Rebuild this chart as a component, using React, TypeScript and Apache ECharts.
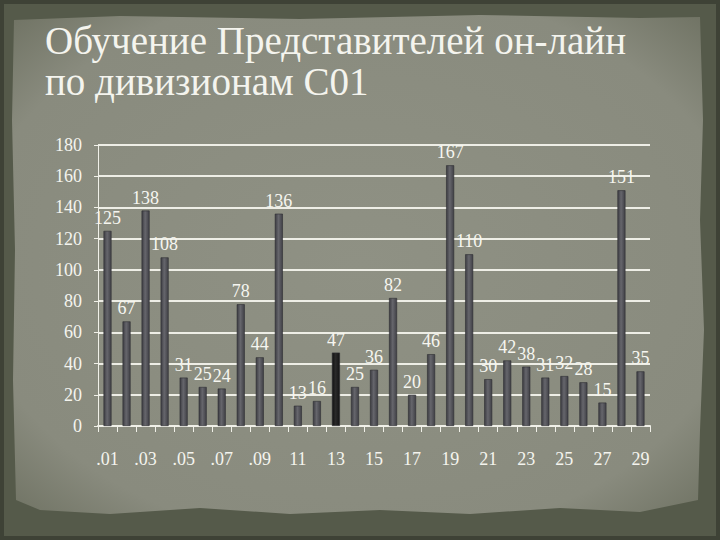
import React, { useEffect, useRef } from "react";
import * as echarts from "echarts";

const categories = [".01", ".02", ".03", ".04", ".05", ".06", ".07", ".08", ".09", "10", "11", "12", "13", "14", "15", "16", "17", "18", "19", "20", "21", "22", "23", "24", "25", "26", "27", "28", "29"];
const values = [125, 67, 138, 108, 31, 25, 24, 78, 44, 136, 13, 16, 47, 25, 36, 82, 20, 46, 167, 110, 30, 42, 38, 31, 32, 28, 15, 151, 35];
const highlightIndex = 12;
const titleLines = ["Обучение Представителей он-лайн", "по дивизионам C01"];

const FONT = "Liberation Serif";

export default function App() {
  const ref = useRef<HTMLDivElement>(null);
  useEffect(() => {
    const chart = echarts.init(ref.current!, null, { renderer: "svg" });
    const barGrad = new echarts.graphic.LinearGradient(0, 0, 1, 0, [
      { offset: 0, color: "#3c3c42" },
      { offset: 0.45, color: "#66666c" },
      { offset: 1, color: "#404046" },
    ]);
    const darkGrad = new echarts.graphic.LinearGradient(0, 0, 1, 0, [
      { offset: 0, color: "#111111" },
      { offset: 0.45, color: "#2a2a2a" },
      { offset: 1, color: "#141414" },
    ]);
    chart.setOption({
      animation: false,
      backgroundColor: "#3e4236",
      graphic: [
        { type: "rect", shape: { x: 4, y: 4, width: 712, height: 532 }, style: { fill: "#555a4a" }, z: -10 },
        {
          type: "polygon",
          shape: {
            points: [
              [14, 20], [120, 16], [300, 19], [480, 15], [640, 18], [700, 17],
              [703, 120], [700, 220], [704, 330], [700, 430], [698, 500],
              [640, 512], [560, 508], [470, 514], [380, 510], [290, 514], [200, 508], [110, 514], [40, 510], [16, 500],
              [13, 380], [15, 250], [12, 120],
            ],
          },
          style: {
            fill: new echarts.graphic.RadialGradient(0.5, 0.5, 0.7, [
              { offset: 0, color: "#8f9184" },
              { offset: 0.8, color: "#898b7e" },
              { offset: 1, color: "#717465" },
            ]),
          },
          z: -9,
        },
        {
          type: "text",
          left: 45,
          top: 21,
          style: { text: titleLines[0], fill: "#f4f4ee", fontFamily: FONT, fontSize: 39 },
          z: 10,
        },
        {
          type: "text",
          left: 45,
          top: 62,
          style: { text: titleLines[1], fill: "#f4f4ee", fontFamily: FONT, fontSize: 39 },
          z: 10,
        },
      ],
      grid: { left: 98, right: 70, top: 145, bottom: 114 },
      xAxis: {
        type: "category",
        data: categories,
        axisLine: { lineStyle: { color: "#f0f0e8", width: 2 } },
        axisTick: { show: true, interval: 0, length: 6, lineStyle: { color: "#f0f0e8" } },
        axisLabel: { interval: 1, color: "#f4f4ee", fontFamily: FONT, fontSize: 18, margin: 24 },
      },
      yAxis: {
        type: "value",
        min: 0,
        max: 180,
        interval: 20,
        axisLine: { show: true, lineStyle: { color: "#f0f0e8", width: 1 } },
        axisTick: { show: true, length: 4, lineStyle: { color: "#f0f0e8" } },
        axisLabel: { color: "#f4f4ee", fontFamily: FONT, fontSize: 18, margin: 16, padding: [12, 0, 0, 0] },
        splitLine: { lineStyle: { color: "#eeeee6", width: 2 } },
      },
      series: [
        {
          type: "bar",
          data: values.map((v, i) => ({
            value: v,
            itemStyle: { color: i === highlightIndex ? darkGrad : barGrad },
          })),
          barWidth: 8,
          itemStyle: { borderColor: "#2e2e32", borderWidth: 0.6 },
          label: {
            show: true,
            position: "top",
            distance: 4,
            color: "#f6f6f0",
            fontFamily: FONT,
            fontSize: 18,
          },
        },
      ],
    });
    return () => chart.dispose();
  }, []);
  return <div ref={ref} style={{ width: 720, height: 540, position: "absolute", left: 0, top: 0 }} />;
}
